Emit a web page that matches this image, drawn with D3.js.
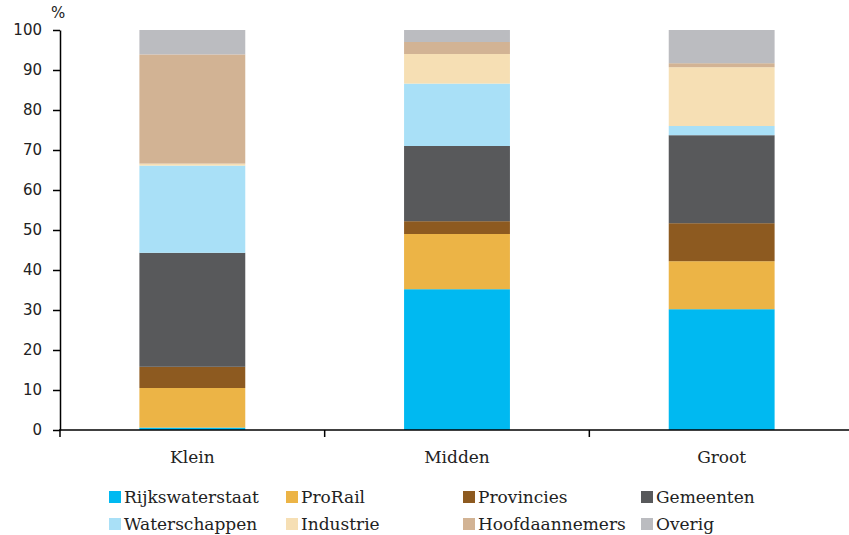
<!DOCTYPE html>
<html><head><meta charset="utf-8">
<script src="https://cdn.jsdelivr.net/npm/d3@7"></script>
<style>body{margin:0;background:#fff}svg{display:block}</style>
</head><body><svg id="c" width="849" height="535"></svg>
<script>
const categories = ["Klein", "Midden", "Groot"];
const seriesNames = ["Rijkswaterstaat","ProRail","Provincies","Gemeenten","Waterschappen","Industrie","Hoofdaannemers","Overig"];
const colors = ["#00B9F1","#ECB446","#8D5A20","#58595B","#A9E0F7","#F6DFB4","#D2B394","#BBBCC0"];
const rijkswaterstaat = [0.6, 35.2, 30.2];
const prorail = [9.9, 13.8, 12.0];
const provincies = [5.3, 3.2, 9.5];
const gemeenten = [28.5, 18.8, 22.0];
const waterschappen = [21.8, 15.6, 2.3];
const industrie = [0.5, 7.4, 14.7];
const hoofdaannemers = [27.3, 3.0, 1.0];
const overig = [6.1, 3.0, 8.3];
const yTicks = [0,10,20,30,40,50,60,70,80,90,100];

const seriesVals = [rijkswaterstaat, prorail, provincies, gemeenten, waterschappen, industrie, hoofdaannemers, overig];
const rows = categories.map((c,i)=>{const r={cat:c}; seriesNames.forEach((s,j)=>r[s]=seriesVals[j][i]); return r;});
const stack = d3.stack().keys(seriesNames)(rows);

const svg = d3.select("#c");
const x = d3.scaleBand().domain(categories).range([60, 854]).paddingInner(0.6).paddingOuter(0.3);
const y = d3.scaleLinear().domain([0,100]).range([430, 30]);

stack.forEach((layer,j)=>{
  svg.append("g").attr("fill", colors[j]).selectAll("rect").data(layer).join("rect")
    .attr("x", d=>x(d.data.cat)).attr("width", x.bandwidth())
    .attr("y", d=>y(d[1])).attr("height", d=>y(d[0])-y(d[1]));
});

// y axis
const ya = svg.append("g").attr("transform","translate(60,0)")
  .call(d3.axisLeft(y).tickValues(yTicks).tickSize(7).tickSizeOuter(0).tickPadding(11));
ya.select(".domain").attr("stroke","#000").attr("stroke-width",1.5);
ya.selectAll(".tick line").attr("stroke","#000").attr("stroke-width",1.5);
ya.selectAll("text").attr("font-family","DejaVu Sans").attr("font-size",15).attr("fill","#222");

// x axis
const xa = svg.append("g").attr("transform","translate(0,430)");
xa.append("line").attr("x1",59).attr("x2",849).attr("stroke","#000").attr("stroke-width",1.5);
xa.selectAll("line.t").data(categories).join("line")
  .attr("x1",d=>x(d)-x.step()*0.3).attr("x2",d=>x(d)-x.step()*0.3)
  .attr("y1",0).attr("y2",7).attr("stroke","#000").attr("stroke-width",1.5);
xa.selectAll("text").data(categories).join("text")
  .attr("x",d=>x(d)+x.bandwidth()/2).attr("y",33).attr("text-anchor","middle")
  .attr("font-family","DejaVu Serif").attr("font-size",17).attr("fill","#222").text(d=>d);

svg.append("text").attr("x",51).attr("y",18).attr("font-family","DejaVu Sans").attr("font-size",15).attr("fill","#222").text("%");

// legend
const lx = [109, 286, 463, 641];
const ly = [503, 530];
seriesNames.forEach((s,j)=>{
  const col = j%4, row = Math.floor(j/4);
  const g = svg.append("g").attr("transform",`translate(${lx[col]},${ly[row]})`);
  g.append("rect").attr("x",0).attr("y",-12).attr("width",12).attr("height",12).attr("fill",colors[j]);
  g.append("text").attr("x",15).attr("y",0).attr("font-family","DejaVu Serif").attr("font-size",17).attr("fill","#222").text(s);
});
</script></body></html>
